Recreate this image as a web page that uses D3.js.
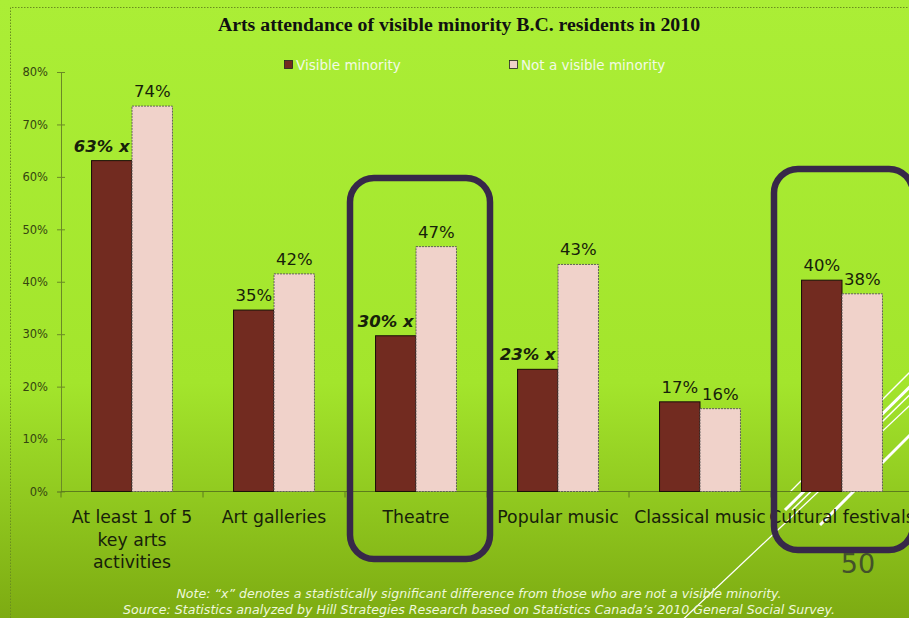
<!DOCTYPE html>
<html>
<head>
<meta charset="utf-8">
<script src="https://cdn.jsdelivr.net/npm/d3@7"></script>
<style>
  html, body { margin: 0; padding: 0; overflow: hidden; }
  body { width: 909px; height: 618px; }
  svg { display: block; }
</style>
</head>
<body>
<svg id="chart" width="909" height="618"></svg>
<script>
// Arts attendance of visible minority B.C. residents in 2010
const title = "Arts attendance of visible minority B.C. residents in 2010";
const categories = [
  ["At least 1 of 5", "key arts", "activities"],
  ["Art galleries"],
  ["Theatre"],
  ["Popular music"],
  ["Classical music"],
  ["Cultural festivals"]
];
const seriesNames = ["Visible minority", "Not a visible minority"];
const visibleMinority = [0.631, 0.346, 0.297, 0.233, 0.171, 0.403];
const notVisibleMinority = [0.735, 0.415, 0.467, 0.433, 0.158, 0.377];
// categories where the difference is statistically significant ("x")
const significant = [true, false, true, true, false, false];
const yTicks = [0, 0.1, 0.2, 0.3, 0.4, 0.5, 0.6, 0.7, 0.8];
const noteLines = [
  "Note: \u201cx\u201d denotes a statistically significant difference from those who are not a visible minority.",
  "Source: Statistics analyzed by Hill Strategies Research based on Statistics Canada\u2019s 2010 General Social Survey."
];
const pageNumber = "50";

const colors = ["#722b20", "#f0d2ca"];
const sans = "'DejaVu Sans', sans-serif";

const svg = d3.select("#chart");
const W = 909, H = 618;

// slide background
const defs = svg.append("defs");
const grad = defs.append("linearGradient").attr("id", "bg")
  .attr("x1", 0).attr("y1", 0).attr("x2", 0).attr("y2", 1);
grad.append("stop").attr("offset", "0%").attr("stop-color", "#abee36");
grad.append("stop").attr("offset", "62%").attr("stop-color", "#a3e52c");
grad.append("stop").attr("offset", "100%").attr("stop-color", "#7dab12");
svg.append("rect").attr("width", W).attr("height", H).attr("fill", "url(#bg)");

// decorative white strokes in the lower right corner
const strokes = [
  {x1: 640, y1: 660, x2: 960, y2: 358, w: 1.3},
  {x1: 790, y1: 492, x2: 930, y2: 352, w: 1.3},
  {x1: 785, y1: 510, x2: 930, y2: 367, w: 3},
  {x1: 792, y1: 510, x2: 935, y2: 370, w: 1.5},
  {x1: 820, y1: 525, x2: 930, y2: 415, w: 3}
];
svg.append("g").selectAll("line").data(strokes).join("line")
  .attr("x1", d => d.x1).attr("y1", d => d.y1)
  .attr("x2", d => d.x2).attr("y2", d => d.y2)
  .attr("stroke", "#ffffff").attr("stroke-width", d => d.w);

// chart area border (dotted)
svg.append("path")
  .attr("d", `M10.5,${H} V7.5 H${W}`)
  .attr("fill", "none").attr("stroke", "#6a8f1e").attr("stroke-width", 1)
  .attr("stroke-dasharray", "1.5,1.5");

// scales
const y = d3.scaleLinear().domain([0, 0.8]).range([491.5, 72]);
const x0 = d3.scaleBand().domain(d3.range(categories.length)).range([61, 913]);
const x1 = d3.scaleBand().domain([0, 1])
  .range([x0.bandwidth() * 0.215, x0.bandwidth() * 0.785]);

// title
svg.append("text")
  .attr("x", 459).attr("y", 31).attr("text-anchor", "middle")
  .attr("font-family", "'Liberation Serif', 'DejaVu Serif', serif")
  .attr("font-weight", "bold").attr("font-size", 19.8)
  .attr("fill", "#111").text(title);

// legend
const legend = svg.append("g");
const legendX = [284, 509];
seriesNames.forEach((name, i) => {
  const g = legend.append("g").attr("transform", `translate(${legendX[i]},60)`);
  g.append("rect").attr("x", 0.5).attr("y", 0.5).attr("width", 8).attr("height", 8)
    .attr("fill", colors[i]).attr("stroke", "#222").attr("stroke-width", 0.8);
  g.append("text").attr("x", 12).attr("y", 9.5)
    .attr("font-family", sans).attr("font-size", 13.5)
    .attr("fill", "#f3fae6").text(name);
});

// y axis with crossing ticks
const yAxis = svg.append("g").attr("transform", "translate(61,0)")
  .call(d3.axisLeft(y).tickValues(yTicks).tickFormat(d3.format(".0%"))
    .tickSize(4).tickPadding(9));
yAxis.select(".domain").attr("stroke", "#6b8a25");
yAxis.selectAll(".tick line").attr("x1", -4).attr("x2", 4).attr("stroke", "#6b8a25");
yAxis.selectAll(".tick text").attr("font-family", sans).attr("font-size", 11.5)
  .attr("fill", "#354510");

// x axis line and category boundary ticks
const xAxis = svg.append("g").attr("transform", `translate(0,${y(0)})`);
xAxis.append("line").attr("x1", 61).attr("x2", 913).attr("stroke", "#5d7d1c");
xAxis.selectAll("line.sep").data(d3.range(categories.length + 1)).join("line")
  .attr("class", "sep")
  .attr("x1", i => i < categories.length ? x0(i) : x0.range()[1])
  .attr("x2", i => i < categories.length ? x0(i) : x0.range()[1])
  .attr("y1", 0).attr("y2", 6).attr("stroke", "#5d7d1c");

// bars
const rows = categories.map((c, i) => ({i, values: [visibleMinority[i], notVisibleMinority[i]]}));
const groups = svg.append("g").selectAll("g").data(rows).join("g")
  .attr("transform", d => `translate(${x0(d.i)},0)`);
groups.selectAll("rect").data(d => d.values.map((v, s) => ({v, s, i: d.i}))).join("rect")
  .attr("x", d => x1(d.s)).attr("width", x1.bandwidth())
  .attr("y", d => y(d.v)).attr("height", d => y(0) - y(d.v))
  .attr("fill", d => colors[d.s])
  .attr("stroke", d => d.s === 0 ? "#1a0e08" : "#555")
  .attr("stroke-width", d => d.s === 0 ? 1 : 0.9)
  .attr("stroke-dasharray", d => d.s === 0 ? null : "2,1");

// value labels
groups.selectAll("text").data(d => d.values.map((v, s) => ({v, s, i: d.i}))).join("text")
  .attr("x", d => x1(d.s) + x1.bandwidth() / 2 + (d.s === 0 && significant[d.i] ? -10 : 0))
  .attr("y", d => y(d.v) - 9)
  .attr("text-anchor", "middle")
  .attr("font-family", sans).attr("font-size", 16.5)
  .attr("font-weight", d => d.s === 0 && significant[d.i] ? "bold" : "normal")
  .attr("font-style", d => d.s === 0 && significant[d.i] ? "italic" : "normal")
  .attr("fill", "#17210a")
  .text(d => d3.format(".0%")(d.v) + (d.s === 0 && significant[d.i] ? " x" : ""));

// category labels
const catLabels = svg.append("g").selectAll("text").data(categories).join("text")
  .attr("x", (d, i) => x0(i) + x0.bandwidth() / 2)
  .attr("y", 523).attr("text-anchor", "middle")
  .attr("font-family", sans).attr("font-size", 17.3).attr("fill", "#17210a");
catLabels.selectAll("tspan").data(d => d).join("tspan")
  .attr("x", function () { return d3.select(this.parentNode).attr("x"); })
  .attr("dy", (d, j) => j === 0 ? 0 : 22.5)
  .text(d => d);

// highlight boxes around selected categories
const boxes = [
  {x: 350, y: 178, w: 140, h: 381},
  {x: 774, y: 169, w: 139, h: 381}
];
svg.append("g").selectAll("rect").data(boxes).join("rect")
  .attr("x", d => d.x).attr("y", d => d.y).attr("width", d => d.w).attr("height", d => d.h)
  .attr("rx", 24).attr("ry", 24)
  .attr("fill", "none").attr("stroke", "#372849").attr("stroke-width", 6.5);

// page number
svg.append("text").attr("x", 858).attr("y", 573).attr("text-anchor", "middle")
  .attr("font-family", sans).attr("font-size", 27).attr("fill", "#43522a")
  .text(pageNumber);

// note and source
svg.append("g").selectAll("text").data(noteLines).join("text")
  .attr("x", 479).attr("y", (d, i) => 598 + i * 15.5).attr("text-anchor", "middle")
  .attr("font-family", sans).attr("font-style", "italic").attr("font-size", 12.6)
  .attr("fill", "#eef8dc").text(d => d);
</script>
</body>
</html>
